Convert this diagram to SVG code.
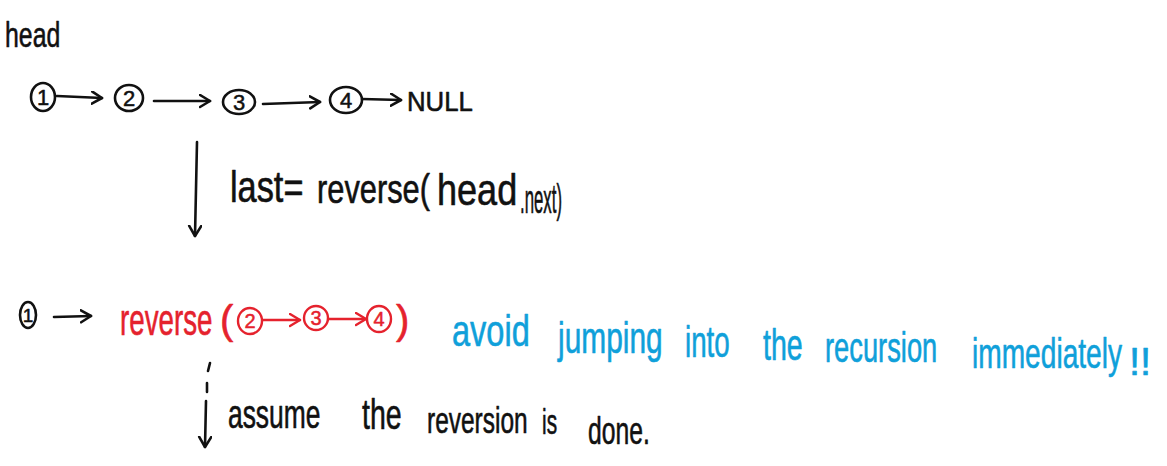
<svg xmlns="http://www.w3.org/2000/svg" width="1167" height="466" viewBox="0 0 1167 466">
<defs>
<marker id="ahk" markerUnits="userSpaceOnUse" markerWidth="14" markerHeight="16" refX="11" refY="7" orient="auto">
<path d="M1,1 L11,7 L1,13" fill="none" stroke="#111" stroke-width="2.6" stroke-linecap="round" stroke-linejoin="round"/>
</marker>
<marker id="ahr" markerUnits="userSpaceOnUse" markerWidth="14" markerHeight="16" refX="11" refY="7" orient="auto">
<path d="M1,1 L11,7 L1,13" fill="none" stroke="#e5222d" stroke-width="2.4" stroke-linecap="round" stroke-linejoin="round"/>
</marker>
</defs>
<style>
text{font-family:"Liberation Sans","DejaVu Sans",sans-serif;stroke-width:0.6;stroke-linejoin:round;}
.k{fill:#111;stroke:#111;}
.r{fill:#e5222d;stroke:#e5222d;}
.b{fill:#0fa0da;stroke:#0fa0da;}
.ck{fill:none;stroke:#111;stroke-width:2.6;}
.cr{fill:none;stroke:#e5222d;stroke-width:2.4;}
.lk{fill:none;stroke:#111;stroke-width:2.6;stroke-linecap:round;}
.lr{fill:none;stroke:#e5222d;stroke-width:2.4;stroke-linecap:round;}
.d{text-anchor:middle;stroke-width:0.5;}
</style>
<rect width="1167" height="466" fill="#fff"/>

<g id="head-label">
<text class="k" font-size="35" transform="translate(5,47) scale(0.71,1)">head</text>
</g>

<g id="node1">
<ellipse class="ck" cx="43" cy="97" rx="12" ry="14"/>
<text class="k d" x="43" y="105" font-size="22">1</text>
</g>
<g id="node2">
<ellipse class="ck" cx="129" cy="98" rx="14" ry="13"/>
<text class="k d" x="129" y="106" font-size="22">2</text>
</g>
<g id="node3">
<ellipse class="ck" cx="239" cy="102" rx="16" ry="12"/>
<text class="k d" x="239" y="110" font-size="22">3</text>
</g>
<g id="node4">
<ellipse class="ck" cx="346" cy="100" rx="16" ry="13"/>
<text class="k d" x="346" y="108" font-size="22">4</text>
</g>
<g id="null">
<text class="k" font-size="28" transform="translate(407,111) scale(0.92,1)">NULL</text>
</g>

<g id="step-label">
<text class="k" font-size="44" transform="translate(230,202) scale(0.78,1)">last=</text>
<text class="k" font-size="40" transform="translate(317,203) scale(0.77,1)">reverse(</text>
<text class="k" font-size="44" transform="translate(437,205) scale(0.82,1)">head</text>
<text class="k" font-size="40" transform="translate(520,213) scale(0.42,1)">.next)</text>
</g>

<g id="node1b">
<ellipse class="ck" cx="28" cy="315" rx="8" ry="13"/>
<text class="k d" x="28" y="322" font-size="19">1</text>
</g>

<g id="reverse-call">
<text class="r" font-size="44" transform="translate(120,335) scale(0.63,1)">reverse</text>
<text class="r" font-size="40" x="220" y="334">(</text>
<ellipse class="cr" cx="250" cy="321" rx="12" ry="13"/>
<text class="r d" x="250" y="328" font-size="20">2</text>
<ellipse class="cr" cx="316" cy="318" rx="12" ry="12"/>
<text class="r d" x="316" y="325" font-size="20">3</text>
<ellipse class="cr" cx="379" cy="319" rx="12" ry="13"/>
<text class="r d" x="379" y="326" font-size="20">4</text>
<text class="r" font-size="40" x="396" y="334">)</text>
</g>

<g id="note">
<text class="b" font-size="44" transform="translate(452,346) scale(0.74,1)">avoid</text>
<text class="b" font-size="44" transform="translate(558,353) scale(0.68,1)">jumping</text>
<text class="b" font-size="44" transform="translate(685,357) scale(0.63,1)">into</text>
<text class="b" font-size="44" transform="translate(763,360) scale(0.65,1)">the</text>
<text class="b" font-size="42" transform="translate(825,362) scale(0.65,1)">recursion</text>
<text class="b" font-size="42" transform="translate(972,368) scale(0.67,1)">immediately</text>
<text class="b" font-size="38" transform="translate(1129,375) scale(1.05,1)">!!</text>
</g>

<g id="done-label">
<text class="k" font-size="40" transform="translate(228,428) scale(0.66,1)">assume</text>
<text class="k" font-size="42" transform="translate(362,429) scale(0.68,1)">the</text>
<text class="k" font-size="36" transform="translate(427,433) scale(0.68,1)">reversion</text>
<text class="k" font-size="36" transform="translate(542,434) scale(0.58,1)">is</text>
<text class="k" font-size="38" transform="translate(588,444) scale(0.65,1)">done.</text>
</g>

<g id="connectors">
<path class="lk" d="M57 96 L102 98" marker-end="url(#ahk)"/>
<path class="lk" d="M154 101 L210 101" marker-end="url(#ahk)"/>
<path class="lk" d="M263 104 L320 102" marker-end="url(#ahk)"/>
<path class="lk" d="M362 99 L401 100" marker-end="url(#ahk)"/>
<path class="lk" d="M197 142 L195 236" marker-end="url(#ahk)"/>
<path class="lk" d="M54 317 L91 316" marker-end="url(#ahk)"/>
<path class="lr" d="M263 320 L300 320" marker-end="url(#ahr)"/>
<path class="lr" d="M328 319 L366 319" marker-end="url(#ahr)"/>
<path class="lk" d="M210 363 L208 371 M207 383 L207 392 M206 401 L205 447" marker-end="url(#ahk)"/>
</g>
</svg>
